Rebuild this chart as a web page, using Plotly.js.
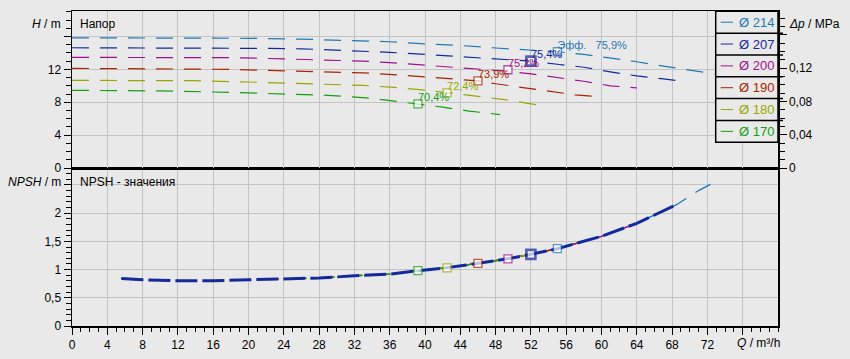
<!DOCTYPE html>
<html>
<head>
<meta charset="utf-8">
<script src="https://cdn.plot.ly/plotly-3.0.1.min.js"></script>
<style>html,body{margin:0;padding:0;background:#e9e9e9;}#chart{width:850px;height:359px;}</style>
</head>
<body>
<div id="chart"></div>
<script>
// ---- data ----
const diameters = ['214', '207', '200', '190', '180', '170'];
const colors = ['#1f78b4', '#142a9c', '#a0108c', '#a82400', '#98a800', '#14a014'];

// H-Q curves
const q214 = [0, 8, 16, 20, 26, 30, 36, 40, 44, 48, 52, 55, 58, 61, 64, 67, 70, 72.8];
const h214 = [15.84, 15.84, 15.8, 15.78, 15.68, 15.56, 15.36, 15.1, 14.9, 14.6, 14.35, 14.14, 13.82, 13.4, 12.93, 12.4, 11.95, 11.45];
const q207 = [0, 10, 18, 22, 26, 30, 33, 36, 39, 41, 43, 46, 49, 52, 55, 58, 61, 64, 67, 68.5];
const h207 = [14.63, 14.62, 14.6, 14.55, 14.5, 14.35, 14.2, 14.07, 13.88, 13.74, 13.65, 13.43, 13.25, 13.0, 12.62, 12.26, 11.7, 11.2, 10.85, 10.65];
const q200 = [0, 12, 18, 22, 26, 30, 33, 36, 39, 41, 43, 46, 49, 52, 55, 58, 61, 64];
const h200 = [13.46, 13.45, 13.42, 13.33, 13.22, 13.1, 13.0, 12.82, 12.6, 12.44, 12.3, 12.05, 11.8, 11.45, 11.0, 10.55, 10.0, 9.75];
const q190 = [0, 12, 18, 22, 26, 30, 33, 37, 40, 43, 46, 48, 51, 54, 57, 59.5];
const h190 = [12.12, 12.05, 12.0, 11.88, 11.8, 11.67, 11.57, 11.33, 11.1, 10.85, 10.6, 10.25, 9.82, 9.36, 8.9, 8.7];
const q180 = [0, 14, 20, 25, 29, 33, 36.5, 40, 42.5, 45.5, 49, 52, 53];
const h180 = [10.66, 10.62, 10.46, 10.33, 10.23, 10.05, 9.8, 9.48, 9.15, 8.8, 8.33, 7.8, 7.62];
const q170 = [0, 10, 18, 22, 26, 29, 31, 34, 37, 39.2, 42, 45, 48.5];
const h170 = [9.45, 9.38, 9.2, 9.08, 8.96, 8.84, 8.72, 8.47, 8.08, 7.8, 7.4, 6.93, 6.5];

// NPSH curves
const qn214 = [5.6, 8, 12, 16, 20, 24, 28, 32, 36, 39.2, 42.3, 46, 49.3, 52, 55, 60, 64, 68.5, 71, 72.6];
const n214  = [0.84, 0.82, 0.80, 0.80, 0.82, 0.84, 0.85, 0.89, 0.92, 0.98, 1.03, 1.11, 1.19, 1.27, 1.37, 1.59, 1.82, 2.15, 2.40, 2.53];
const qn207 = [5.6, 8, 12, 16, 20, 24, 28, 32, 36, 39.2, 42.3, 46, 49.3, 52, 55, 60, 64, 68.5];
const n207  = [0.84, 0.82, 0.80, 0.80, 0.82, 0.84, 0.85, 0.89, 0.92, 0.98, 1.03, 1.11, 1.19, 1.27, 1.37, 1.59, 1.82, 2.15];
const qn200 = [5.6, 8, 12, 16, 20, 24, 28, 32, 36, 39.2, 42.3, 46, 49.3, 52, 55, 60, 64];
const n200  = [0.84, 0.82, 0.80, 0.80, 0.82, 0.84, 0.85, 0.89, 0.92, 0.98, 1.03, 1.11, 1.19, 1.27, 1.37, 1.59, 1.82];
const qn190 = [5.6, 8, 12, 16, 20, 24, 28, 32, 36, 39.2, 42.3, 46, 49.3, 52, 55, 59.5];
const n190  = [0.84, 0.82, 0.80, 0.80, 0.82, 0.84, 0.85, 0.89, 0.92, 0.98, 1.03, 1.11, 1.19, 1.27, 1.37, 1.57];
const qn180 = [5.6, 8, 12, 16, 20, 24, 28, 32, 36, 39.2, 42.3, 46, 49.3, 52, 53];
const n180  = [0.84, 0.82, 0.80, 0.80, 0.82, 0.84, 0.85, 0.89, 0.92, 0.98, 1.03, 1.11, 1.19, 1.27, 1.30];
const qn170 = [5.6, 8, 12, 16, 20, 24, 28, 32, 36, 39.2, 42.3, 46, 48.5];
const n170  = [0.84, 0.82, 0.80, 0.80, 0.82, 0.84, 0.85, 0.89, 0.92, 0.98, 1.03, 1.11, 1.17];

// best-efficiency points
const effQ = [55.0, 52.0, 49.4, 46.0, 42.5, 39.2];
const effH = [14.14, 13.0, 11.95, 10.6, 9.15, 7.8];
const effNPSH = [1.37, 1.27, 1.19, 1.11, 1.03, 0.98];
const effLabels = ['Эфф.\u00a0\u00a0 75,9%', '75,4%', '75,2%', '73,9%', '72,4%', '70,4%'];

// axis ticks
const qTicks = [0, 4, 8, 12, 16, 20, 24, 28, 32, 36, 40, 44, 48, 52, 56, 60, 64, 68, 72, 76];
const qTickText = ['0', '4', '8', '12', '16', '20', '24', '28', '32', '36', '40', '44', '48', '52', '56', '60', '64', '68', '72', ''];
const hTicks = [0, 4, 8, 12, 16];
const hTickText = ['0', '4', '8', '12', ''];
const nTicks = [0, 0.5, 1, 1.5, 2, 2.5];
const nTickText = ['0', '0,5', '1', '1,5', '2', ''];
const pTicks = [0, 0.04, 0.08, 0.12, 0.16];
const pTickText = ['0', '0,04', '0,08', '0,12', ''];

// ---- build ----
const HQ = [[q214, h214], [q207, h207], [q200, h200], [q190, h190], [q180, h180], [q170, h170]];
const NQ = [[qn214, n214], [qn207, n207], [qn200, n200], [qn190, n190], [qn180, n180], [qn170, n170]];
const SEL = 1; // highlighted diameter (Ø 207)
const FONT = 'Liberation Sans, Arial, sans-serif';
const DASH = '17px,11px';

const traces = [];
HQ.forEach((c, i) => {
  traces.push({x: c[0], y: c[1], xaxis: 'x2', yaxis: 'y2', mode: 'lines', type: 'scatter',
    line: {color: colors[i], width: 1.2, dash: DASH}, hoverinfo: 'skip', showlegend: false});
});
NQ.forEach((c, i) => {
  if (i === SEL) return;
  traces.push({x: c[0], y: c[1], xaxis: 'x', yaxis: 'y', mode: 'lines', type: 'scatter',
    line: {color: colors[i], width: 1.3, dash: DASH}, hoverinfo: 'skip', showlegend: false});
});
traces.push({x: NQ[SEL][0], y: NQ[SEL][1], xaxis: 'x', yaxis: 'y', mode: 'lines', type: 'scatter',
  line: {color: colors[SEL], width: 3, dash: '22px,5px'}, hoverinfo: 'skip', showlegend: false});
// empty trace so that the Δp axis is drawn
traces.push({x: [], y: [], xaxis: 'x2', yaxis: 'y3', mode: 'lines', type: 'scatter', showlegend: false, hoverinfo: 'skip'});

const mw = diameters.map((d, i) => i === SEL ? 2.6 : 1.3);
const ms = diameters.map((d, i) => i === SEL ? 9 : 8);
traces.push({x: effQ, y: effH, xaxis: 'x2', yaxis: 'y2', mode: 'markers', type: 'scatter',
  marker: {symbol: 'square', size: ms, color: '#ffffff', line: {color: colors, width: mw}}, showlegend: false});
traces.push({x: effQ, y: effNPSH, xaxis: 'x', yaxis: 'y', mode: 'markers', type: 'scatter',
  marker: {symbol: 'square', size: ms, color: '#ffffff', line: {color: colors, width: mw}}, showlegend: false});
traces.push({x: effQ, y: effH, xaxis: 'x2', yaxis: 'y2', mode: 'text', type: 'scatter',
  text: effLabels, textposition: 'top right', textfont: {family: FONT, size: 11, color: colors},
  showlegend: false, hoverinfo: 'skip'});

// pixel helpers for paper coordinates
const L = 72, R = 778, T = 11, B = 326;
const px = v => (v - L) / (R - L);
const py = v => (B - v) / (B - T);
const split = py(168);

const GRID = '#c3c3c3';
const axBase = {showline: true, linecolor: '#000', linewidth: 1.5, zeroline: false, gridcolor: GRID, gridwidth: 1,
  tickfont: {family: FONT, size: 12, color: '#000'}, ticks: 'outside', tickcolor: '#000', tickwidth: 1};

const shapes = [];
const annotations = [];
// legend
const lgTop = 11.3, lgRow = 21.83, lgL = 715.7;
shapes.push({type: 'rect', xref: 'paper', yref: 'paper', x0: px(lgL), x1: px(R), y0: py(lgTop), y1: py(lgTop + lgRow * 6),
  fillcolor: '#e9e9e9', line: {color: '#000', width: 1.5}, layer: 'above'});
diameters.forEach((d, i) => {
  const yc = lgTop + lgRow * (i + 0.5);
  if (i > 0) shapes.push({type: 'line', xref: 'paper', yref: 'paper', x0: px(lgL), x1: px(R + 5),
    y0: py(lgTop + lgRow * i), y1: py(lgTop + lgRow * i), line: {color: '#000', width: 1.5}, layer: 'above'});
  shapes.push({type: 'line', xref: 'paper', yref: 'paper', x0: px(720.7), x1: px(733), y0: py(yc), y1: py(yc),
    line: {color: colors[i], width: 1}, layer: 'above'});
  annotations.push({xref: 'paper', yref: 'paper', x: px(737), y: py(yc), xanchor: 'left', yanchor: 'middle',
    text: 'Ø ' + d, showarrow: false, font: {family: FONT, size: 13, color: colors[i]}});
});
// axis titles
const tf = {family: FONT, size: 12, color: '#000'};
annotations.push({xref: 'paper', yref: 'paper', x: px(63), y: py(24.3), xanchor: 'right', yanchor: 'middle', text: '<i>H</i> / m', showarrow: false, font: tf});
annotations.push({xref: 'paper', yref: 'paper', x: px(78), y: py(24.3), xanchor: 'left', yanchor: 'middle', text: 'Напор', showarrow: false, font: tf});
annotations.push({xref: 'paper', yref: 'paper', x: px(63), y: py(181.7), xanchor: 'right', yanchor: 'middle', text: '<i>NPSH</i> / m', showarrow: false, font: tf});
annotations.push({xref: 'paper', yref: 'paper', x: px(78), y: py(181.7), xanchor: 'left', yanchor: 'middle', text: 'NPSH - значения', showarrow: false, font: tf});
annotations.push({xref: 'paper', yref: 'paper', x: px(787), y: py(24.3), xanchor: 'left', yanchor: 'middle', text: '<i>Δp</i> / MPa', showarrow: false, font: tf});
annotations.push({xref: 'paper', yref: 'paper', x: px(758.5), y: py(343.3), xanchor: 'center', yanchor: 'middle', text: '<i>Q</i> / m³/h', showarrow: false, font: tf});

const layout = {
  width: 850, height: 359,
  margin: {l: L, r: 850 - R, t: T, b: 359 - B, pad: 0},
  paper_bgcolor: '#e9e9e9', plot_bgcolor: '#e9e9e9',
  separators: ', ',
  showlegend: false,
  font: {family: FONT, size: 12, color: '#000'},
  xaxis: Object.assign({}, axBase, {domain: [0, 1], anchor: 'y', range: [0, 80], tickmode: 'array', tickvals: qTicks, ticktext: qTickText,
    ticklen: 7, mirror: true, showgrid: true,
    minor: {tickmode: 'linear', tick0: 0, dtick: 1, ticks: 'outside', ticklen: 4, tickcolor: '#000', showgrid: false}}),
  xaxis2: Object.assign({}, axBase, {domain: [0, 1], anchor: 'y2', matches: 'x', range: [0, 80], tickmode: 'array', tickvals: qTicks,
    showticklabels: false, ticks: '', mirror: true, showgrid: true}),
  yaxis: Object.assign({}, axBase, {domain: [0, split], anchor: 'x', range: [0, 2.8], tickmode: 'array', tickvals: nTicks, ticktext: nTickText,
    ticklen: 7, mirror: true, showgrid: true,
    minor: {tickmode: 'linear', tick0: 0, dtick: 0.1, ticks: 'outside', ticklen: 5, tickcolor: '#000', showgrid: false}}),
  yaxis2: Object.assign({}, axBase, {domain: [split, 1], anchor: 'x2', range: [0, 19.1], tickmode: 'array', tickvals: hTicks, ticktext: hTickText,
    ticklen: 7, mirror: true, showgrid: true,
    minor: {tickmode: 'linear', tick0: 0, dtick: 1, ticks: 'outside', ticklen: 5, tickcolor: '#000', showgrid: false}}),
  yaxis3: Object.assign({}, axBase, {overlaying: 'y2', anchor: 'x2', side: 'right', range: [0, 0.1885], tickmode: 'array', tickvals: pTicks, ticktext: pTickText,
    ticklen: 7, showgrid: false,
    minor: {tickmode: 'linear', tick0: 0, dtick: 0.01, ticks: 'outside', ticklen: 5, tickcolor: '#000', showgrid: false}}),
  shapes: shapes,
  annotations: annotations
};

Plotly.newPlot('chart', traces, layout, {staticPlot: true, displayModeBar: false});
</script>
</body>
</html>
